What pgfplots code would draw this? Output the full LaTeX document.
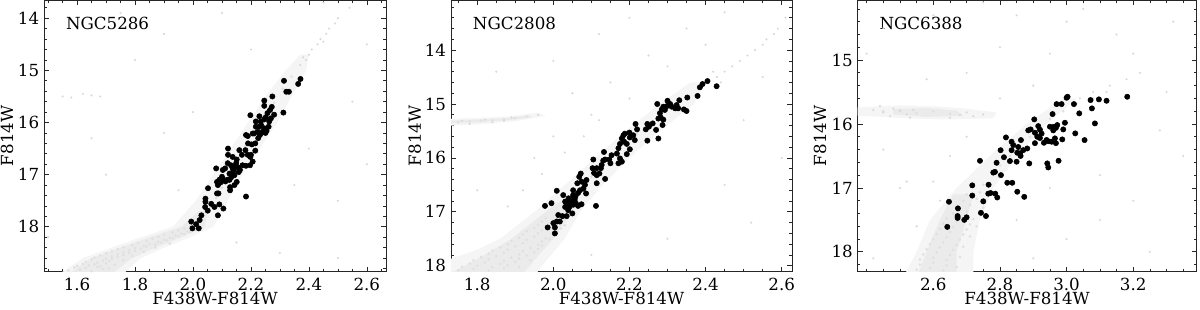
\documentclass[border=0pt]{standalone}
\usepackage{fontspec}
\setmainfont{DejaVu Serif}
\usepackage{pgfplots}
\pgfplotsset{compat=1.18}
\pgfplotsset{cmd/.style={
  scale only axis, height=195.6pt, anchor=south west,
  y dir=reverse, clip=true,
  tick align=inside, tick pos=both,
  major tick length=3.6pt, minor tick length=2pt,
  axis line style={line width=0.6pt, black!85},
  every tick/.style={black!85, line width=0.5pt},
  tick label style={font=\fontsize{12}{14}\selectfont},
  label style={font=\fontsize{12}{14}\selectfont},
  /pgf/number format/assume math mode=true,
  xticklabel style={yshift=-1pt, /pgf/number format/.cd, fixed, fixed zerofill, precision=1},
  xlabel={F438W-F814W}, ylabel={F814W},
  xlabel style={at={(axis description cs:0.5,-0.1)}, anchor=center},
},
outer/.style={draw=none, fill=black!4},
inner/.style={draw=none, fill=black!8},
band/.style={only marks, mark=*, mark size=0.7pt, color=black!12, mark options={draw=black!12, fill=black!12}},
field/.style={only marks, mark=*, mark size=0.55pt, color=black!15, mark options={draw=black!15, fill=black!15}},
fg/.style={only marks, mark=*, mark size=1.9pt, color=black, mark options={draw=black, fill=black}}}
\begin{document}
\begin{tikzpicture}
\useasboundingbox (0,0) rectangle (864pt,222.48pt);
% ---------------- NGC5286
\begin{axis}[cmd, at={(31.7pt,26.9pt)}, width=246.2pt,
  xmin=1.486, xmax=2.666, ymin=13.65, ymax=18.86,
  xtick={1.6,1.8,2.0,2.2,2.4,2.6}, ytick={14,15,16,17,18},
  minor xtick={1.5,1.55,...,2.66}, minor ytick={13.8,14,...,18.81},
  ylabel style={at={(axis description cs:-0.108,0.5)}, anchor=center}]
\addplot[outer] coordinates {
(1.54,18.9)(1.62,18.6)(1.72,18.4)(1.82,18.2)(1.93,18.0)(2.01,17.5)(2.07,17.0)
(2.13,16.5)(2.19,16.0)(2.25,15.5)(2.32,15.0)(2.37,14.7)
(2.40,14.7)(2.39,15.0)(2.34,15.5)(2.29,16.0)(2.23,16.5)
(2.17,17.0)(2.12,17.5)(2.07,18.0)(1.99,18.2)(1.90,18.4)(1.82,18.6)(1.76,18.9)} -- cycle;
\addplot[inner] coordinates {
(1.57,18.9)(1.65,18.6)(1.75,18.4)(1.85,18.2)(1.96,18.0)(2.02,17.7)
(2.05,17.7)(2.04,18.0)(1.96,18.2)(1.87,18.4)(1.79,18.6)(1.72,18.9)} -- cycle;
\addplot[band] coordinates {
(1.57,18.84)(1.61,18.82)(1.65,18.85)(1.69,18.81)(1.59,18.78)(1.63,18.79)(1.67,18.77)(1.71,18.80)
(1.60,18.75)(1.64,18.74)(1.68,18.76)(1.62,18.71)(1.66,18.72)(1.70,18.70)(1.73,18.73)
(1.63,18.67)(1.67,18.69)(1.71,18.66)(1.65,18.63)(1.69,18.65)(1.72,18.62)(1.76,18.64)
(1.66,18.59)(1.70,18.61)(1.74,18.58)(1.68,18.55)(1.72,18.57)(1.76,18.54)(1.79,18.56)
(1.70,18.51)(1.74,18.53)(1.78,18.50)(1.72,18.47)(1.76,18.49)(1.80,18.46)(1.83,18.48)
(1.74,18.43)(1.78,18.45)(1.82,18.42)(1.76,18.39)(1.80,18.41)(1.84,18.38)(1.87,18.40)
(1.79,18.35)(1.83,18.37)(1.87,18.34)(1.81,18.31)(1.85,18.33)(1.89,18.30)(1.92,18.32)
(1.84,18.27)(1.88,18.29)(1.91,18.26)(1.86,18.23)(1.90,18.25)(1.93,18.22)
(1.88,18.19)(1.92,18.21)(1.95,18.18)(1.90,18.15)(1.94,18.17)(1.97,18.14)
(1.93,18.11)(1.96,18.13)(1.99,18.10)(1.95,18.07)(1.98,18.09)(2.01,18.06)
(1.97,18.03)(2.00,18.05)(2.03,18.02)(1.99,17.99)(2.02,18.01)
(2.03,17.75)(2.06,17.62)(2.08,17.45)(2.10,17.25)(2.12,17.05)(2.14,16.85)
(2.16,16.65)(2.18,16.45)(2.20,16.25)(2.23,16.05)(2.25,15.85)(2.28,15.62)(2.31,15.35)(2.34,15.12)
};
\addplot[field] coordinates {
(2.37,14.9)(2.39,14.8)(2.41,14.6)(2.44,14.4)(2.47,14.2)(2.50,14.0)(2.54,13.8)
(2.40,14.7)(2.43,14.5)(2.46,14.3)(2.49,14.1)(2.38,14.75)(2.45,14.45)
(1.55,15.5)(1.62,15.45)(1.68,15.5)(1.58,15.52)(1.65,15.48)(1.90,14.3)(2.10,13.9)(2.45,13.7)
(2.60,14.5)(1.70,17.0)(1.90,16.2)(2.40,16.5)(2.50,17.5)(1.80,14.8)
(2.30,18.5)(2.55,15.6)(1.50,18.2)(2.00,15.8)(2.20,14.6)(2.60,16.8)
(1.65,16.3)(2.35,17.2)(1.95,17.3)(2.15,18.3)(2.50,18.6)(1.75,13.9)
};
\addplot[fg] coordinates {
(2.371,15.165)(2.363,15.26)(2.314,15.20)(2.322,15.41)(2.331,15.41)(2.312,15.81)
(2.274,15.50)(2.246,15.58)(2.246,15.68)(2.272,15.70)(2.266,15.76)(2.257,15.82)
(2.269,15.92)(2.251,15.90)(2.246,15.94)(2.263,15.98)(2.234,15.98)(2.229,15.88)
(2.217,15.98)(2.261,16.08)(2.254,16.16)(2.246,16.11)(2.24,16.18)(2.231,16.24)
(2.229,16.08)(2.217,16.08)(2.223,16.18)(2.211,16.21)(2.206,16.21)(2.198,15.86)
(2.189,16.26)(2.183,16.24)(2.203,16.42)(2.215,16.40)(2.215,16.54)(2.198,16.66)
(2.20,16.62)(2.189,16.62)(2.181,16.53)(2.16,16.53)(2.169,16.62)(2.206,16.75)
(2.197,16.82)(2.183,16.83)(2.171,16.82)(2.162,16.91)(2.151,16.71)(2.149,16.78)
(2.143,16.85)(2.137,16.88)(2.131,16.82)(2.12,16.78)(2.111,16.88)(2.103,16.91)
(2.137,16.98)(2.126,16.98)(2.143,17.01)(2.137,16.66)(2.121,16.50)(2.121,16.62)
(2.08,16.88)(2.10,17.04)(2.091,17.10)(2.083,17.14)(2.086,17.20)(2.095,17.15)
(2.105,17.10)(2.118,17.10)(2.126,17.10)(2.128,17.24)(2.128,17.30)(2.151,17.14)
(2.143,17.20)(2.183,17.42)(2.088,17.36)(2.083,17.36)(2.052,17.26)(2.043,17.46)
(2.043,17.52)(2.042,17.62)(2.051,17.69)(2.063,17.56)(2.074,17.62)(2.091,17.57)
(2.105,17.65)(2.086,17.78)(2.029,17.78)(2.023,17.87)(1.994,17.90)(2.011,17.95)
(1.998,18.03)(2.02,18.03)(2.155,16.86)(2.14,16.92)(2.132,17.05)(2.112,17.13)
(2.158,16.95)(2.19,16.40)(2.235,16.05)(2.25,16.20)(2.28,15.85)(2.225,16.30)
};
\node[anchor=west, font=\fontsize{12}{14}\selectfont] at (axis description cs:0.05,0.915) {NGC5286};
\end{axis}
% ---------------- NGC2808
\begin{axis}[cmd, at={(324.7pt,26.9pt)}, width=245.5pt,
  xmin=1.731, xmax=2.627, ymin=13.07, ymax=18.11,
  xtick={1.8,2.0,2.2,2.4,2.6}, ytick={14,15,16,17,18},
  minor xtick={1.75,1.8,...,2.63}, minor ytick={13.2,13.4,...,18.1},
  ylabel style={at={(axis description cs:-0.106,0.5)}, anchor=center}]
\addplot[outer] coordinates {
(1.70,17.95)(1.80,17.7)(1.86,17.5)(1.95,17.0)(2.03,16.5)(2.11,16.0)(2.19,15.5)
(2.28,15.0)(2.36,14.6)(2.40,14.6)(2.37,15.0)(2.28,15.5)(2.20,16.0)(2.13,16.5)(2.07,17.0)
(2.03,17.5)(1.97,18.0)(1.95,18.2)(1.70,18.2)} -- cycle;
\addplot[inner] coordinates {
(1.70,18.15)(1.74,18.11)(1.82,17.8)(1.89,17.5)(1.98,17.0)(2.02,16.8)
(2.06,16.8)(2.05,17.0)(2.00,17.5)(1.95,17.9)(1.92,18.15)} -- cycle;
\addplot[outer] coordinates {
(1.70,15.28)(1.80,15.26)(1.88,15.23)(1.96,15.16)(1.98,15.22)(1.90,15.32)(1.80,15.38)(1.70,15.41)} -- cycle;
\addplot[inner] coordinates {
(1.70,15.31)(1.80,15.29)(1.88,15.26)(1.94,15.21)(1.94,15.25)(1.88,15.30)(1.80,15.34)(1.70,15.37)} -- cycle;
\addplot[band] coordinates {
(1.75,18.08)(1.79,18.06)(1.83,18.09)(1.87,18.05)(1.76,18.02)(1.80,18.00)(1.84,18.03)(1.88,17.99)(1.91,18.02)
(1.78,17.96)(1.82,17.94)(1.86,17.97)(1.90,17.93)(1.79,17.90)(1.83,17.88)(1.87,17.91)(1.91,17.87)(1.94,17.90)
(1.81,17.84)(1.85,17.82)(1.89,17.85)(1.93,17.81)(1.83,17.78)(1.87,17.76)(1.91,17.79)(1.95,17.75)
(1.84,17.72)(1.88,17.70)(1.92,17.73)(1.96,17.69)(1.86,17.66)(1.90,17.64)(1.94,17.67)(1.97,17.63)
(1.88,17.60)(1.92,17.58)(1.96,17.61)(1.89,17.54)(1.93,17.52)(1.97,17.55)(1.99,17.51)
(1.91,17.48)(1.95,17.46)(1.98,17.49)(1.92,17.42)(1.96,17.40)(2.00,17.43)
(1.93,17.36)(1.97,17.34)(2.01,17.37)(1.95,17.30)(1.99,17.28)(2.02,17.31)
(1.96,17.24)(2.00,17.22)(2.03,17.25)(1.97,17.18)(2.01,17.16)(1.98,17.12)(2.02,17.10)
(2.03,16.95)(2.05,16.75)(2.08,16.55)(2.10,16.35)(2.13,16.15)(2.16,15.95)(2.19,15.75)
(2.22,15.55)(2.25,15.35)(2.29,15.15)(2.33,14.95)
(1.75,15.34)(1.78,15.32)(1.81,15.31)(1.84,15.30)(1.87,15.28)(1.90,15.26)(1.93,15.23)
};
\addplot[field] coordinates {
(2.38,14.7)(2.40,14.6)(2.43,14.5)(2.45,14.4)(2.49,14.2)(2.53,14.0)(2.56,13.8)(2.59,13.6)(2.61,13.4)
(2.47,14.3)(2.51,14.1)(2.55,13.9)(2.58,13.7)(2.44,14.6)(2.42,14.4)
(1.78,15.37)(1.76,15.31)(1.84,15.34)(1.89,15.25)(1.82,15.29)(1.87,15.31)(1.96,15.20)
(2.10,15.2)(2.20,14.9)(2.30,14.3)(2.15,14.6)(2.40,13.9)(2.00,14.2)
(1.90,13.6)(2.20,13.4)(2.50,15.3)(2.45,16.5)(2.30,17.5)(2.10,17.8)
(1.80,16.6)(1.95,16.0)(2.55,14.5)(2.00,15.6)(2.35,13.6)(2.60,16.0)
(2.25,14.1)(2.05,14.8)(2.45,13.3)(2.12,13.7)(1.85,14.4)(2.52,17.2)
(1.92,16.6)(1.97,16.3)(2.03,15.9)(2.08,15.6)(1.88,16.9)(2.12,15.3)
};
\addplot[fg] coordinates {
(2.405,14.575)(2.392,14.63)(2.385,14.69)(2.429,14.67)(2.379,14.85)(2.352,14.88)
(2.35,15.13)(2.343,15.10)(2.324,15.02)(2.328,15.08)(2.331,14.93)(2.32,15.08)
(2.311,15.05)(2.307,15.00)(2.30,14.94)(2.298,15.04)(2.293,15.11)(2.289,15.05)
(2.285,15.10)(2.28,15.17)(2.273,15.00)(2.276,15.27)(2.289,15.29)(2.282,15.25)
(2.287,15.39)(2.27,15.48)(2.276,15.64)(2.261,15.36)(2.251,15.42)(2.247,15.37)
(2.243,15.47)(2.247,15.68)(2.216,15.37)(2.22,15.47)(2.214,15.67)(2.21,15.58)
(2.201,15.62)(2.20,15.53)(2.188,15.55)(2.184,15.58)(2.18,15.64)(2.186,15.70)
(2.193,15.74)(2.201,15.84)(2.193,15.93)(2.175,15.74)(2.171,15.82)(2.167,15.92)
(2.175,16.01)(2.171,16.10)(2.18,16.07)(2.153,15.95)(2.147,16.03)(2.15,16.10)
(2.133,15.89)(2.136,16.03)(2.131,16.05)(2.127,16.13)(2.125,16.19)(2.114,16.19)
(2.107,16.28)(2.105,16.03)(2.103,16.19)(2.114,16.32)(2.121,16.29)(2.114,16.47)
(2.136,16.39)(2.087,16.41)(2.072,16.29)(2.068,16.35)(2.063,16.47)(2.074,16.44)
(2.083,16.50)(2.079,16.57)(2.065,16.65)(2.052,16.69)(2.056,16.78)(2.059,16.84)
(2.065,16.89)(2.052,16.87)(2.048,16.78)(2.044,16.81)(2.042,16.91)(2.035,16.84)
(2.031,16.91)(2.031,16.81)(2.052,16.60)(2.07,16.60)(2.086,16.66)(2.026,16.69)
(2.009,16.61)(1.995,16.84)(2.024,17.08)(2.013,17.06)(2.017,17.18)(2.009,17.18)
(2.035,17.08)(2.039,16.97)(2.074,16.86)(1.978,16.89)(1.985,17.29)(2.00,17.21)
(2.004,17.29)(2.004,17.40)(2.112,16.89)(2.05,17.03)(2.058,16.72)(2.04,16.75)
};
\node[anchor=west, font=\fontsize{12}{14}\selectfont] at (axis description cs:0.05,0.915) {NGC2808};
\end{axis}
% ---------------- NGC6388
\begin{axis}[cmd, at={(617.5pt,26.9pt)}, width=244pt,
  xmin=2.373, xmax=3.39, ymin=14.06, ymax=18.31,
  xtick={2.6,2.8,3.0,3.2}, ytick={15,16,17,18},
  minor xtick={2.4,2.45,...,3.39}, minor ytick={14.2,14.4,...,18.3},
  ylabel style={at={(axis description cs:-0.111,0.5)}, anchor=center}]
\addplot[outer] coordinates {
(2.51,18.4)(2.55,18.0)(2.59,17.5)(2.67,17.0)(2.77,16.5)(2.88,16.0)(2.99,15.6)
(3.03,15.6)(2.94,16.0)(2.85,16.5)(2.78,17.0)(2.74,17.5)(2.72,18.0)(2.72,18.4)} -- cycle;
\addplot[inner] coordinates {
(2.55,18.4)(2.58,18.0)(2.62,17.5)(2.66,17.1)(2.72,17.1)(2.70,17.5)(2.67,18.0)(2.67,18.4)} -- cycle;
\addplot[outer] coordinates {
(2.37,15.74)(2.50,15.71)(2.60,15.72)(2.70,15.76)(2.79,15.82)(2.78,15.91)(2.65,15.93)
(2.55,15.92)(2.45,15.89)(2.37,15.87)} -- cycle;
\addplot[inner] coordinates {
(2.48,15.77)(2.58,15.75)(2.67,15.79)(2.69,15.87)(2.58,15.89)(2.48,15.85)} -- cycle;
\addplot[band] coordinates {
(2.55,18.28)(2.59,18.25)(2.63,18.29)(2.67,18.24)(2.56,18.20)(2.60,18.17)(2.64,18.21)
(2.56,18.12)(2.60,18.09)(2.64,18.13)(2.68,18.08)(2.57,18.04)(2.61,18.01)(2.65,18.05)
(2.58,17.96)(2.62,17.93)(2.66,17.97)(2.69,17.92)(2.59,17.88)(2.63,17.85)(2.67,17.89)
(2.60,17.80)(2.64,17.77)(2.68,17.81)(2.71,17.76)(2.61,17.72)(2.65,17.69)(2.69,17.73)
(2.62,17.64)(2.66,17.61)(2.70,17.65)(2.73,17.60)(2.63,17.56)(2.67,17.53)(2.71,17.57)
(2.64,17.48)(2.68,17.45)(2.72,17.49)(2.66,17.40)(2.70,17.37)(2.74,17.41)
(2.67,17.30)(2.71,17.27)(2.75,17.31)(2.69,17.20)(2.73,17.17)(2.70,17.10)(2.74,17.07)
(2.75,16.95)(2.78,16.80)(2.80,16.65)(2.83,16.50)(2.86,16.35)(2.89,16.20)(2.92,16.05)
(2.95,15.92)(2.99,15.80)(3.03,15.68)
(2.45,15.80)(2.50,15.78)(2.55,15.83)(2.60,15.80)(2.65,15.84)(2.70,15.82)
};
\addplot[field] coordinates {
(3.04,15.6)(3.08,15.6)(3.08,15.5)(3.12,15.5)(3.13,15.4)(3.18,15.3)(3.22,15.2)
(2.42,15.78)(2.45,15.82)(2.48,15.76)(2.50,15.80)(2.52,15.85)(2.54,15.78)
(2.68,15.86)(2.72,15.88)(2.75,15.85)(2.53,15.90)(2.65,15.90)(2.47,15.88)(2.44,15.72)
(2.45,14.5)(2.60,14.3)(2.80,14.8)(3.00,14.4)(3.20,14.9)(3.30,15.5)
(3.35,16.5)(3.20,17.2)(3.00,17.8)(2.90,18.1)(2.50,17.0)(2.45,16.4)
(2.70,15.2)(2.90,15.4)(3.10,16.8)(2.55,17.6)(2.85,17.5)(3.25,18.0)
(2.65,16.5)(3.05,14.2)(2.42,18.1)(2.75,14.1)(3.15,14.6)(3.28,16.1)
(2.52,16.9)(2.95,17.0)(3.10,17.5)(2.40,14.9)(2.85,14.3)(3.32,14.4)
(2.60,16.9)(2.70,16.2)(2.80,15.6)(2.62,17.2)(2.58,15.3)(2.95,14.9)
};
\addplot[fg] coordinates {
(3.182,15.574)(3.120,15.637)(3.097,15.615)(3.072,15.626)(3.003,15.574)(3.00,15.59)
(2.985,15.689)(2.970,15.689)(3.022,15.689)(3.076,15.756)(3.038,15.834)(2.958,15.845)
(3.085,15.991)(3.026,16.147)(3.054,16.252)(2.995,15.981)(2.99,16.085)(2.987,16.241)
(2.972,16.017)(2.962,16.043)(2.968,16.06)(2.965,16.225)(2.955,16.278)(2.945,16.27)
(2.968,16.30)(2.95,16.043)(2.932,16.294)(2.903,15.928)(2.892,16.085)(2.905,16.137)
(2.915,16.033)(2.92,16.09)(2.912,16.20)(2.905,16.30)(2.925,16.15)(2.976,16.576)
(2.942,16.617)(2.945,16.68)(2.888,16.617)(2.882,16.383)(2.87,16.409)(2.86,16.46)
(2.862,16.50)(2.852,16.45)(2.85,16.59)(2.863,16.252)(2.855,16.36)(2.835,16.278)
(2.84,16.33)(2.835,16.41)(2.818,16.21)(2.802,16.41)(2.83,16.58)(2.812,16.52)
(2.79,16.607)(2.74,16.576)(2.803,16.80)(2.785,16.75)(2.78,16.76)(2.822,16.92)
(2.837,16.92)(2.852,17.06)(2.873,17.14)(2.766,16.95)(2.717,16.96)(2.717,17.12)
(2.765,17.09)(2.772,17.08)(2.786,17.09)(2.792,17.15)(2.75,17.21)(2.743,17.39)
(2.758,17.44)(2.647,17.217)(2.674,17.32)(2.673,17.44)(2.673,17.47)(2.693,17.50)
(2.70,17.46)(2.642,17.61)(2.94,16.25)(2.96,16.10)(2.92,16.22)(2.885,16.10)
};
\node[anchor=west, font=\fontsize{12}{14}\selectfont] at (axis description cs:0.05,0.915) {NGC6388};
\end{axis}
\end{tikzpicture}
\end{document}
